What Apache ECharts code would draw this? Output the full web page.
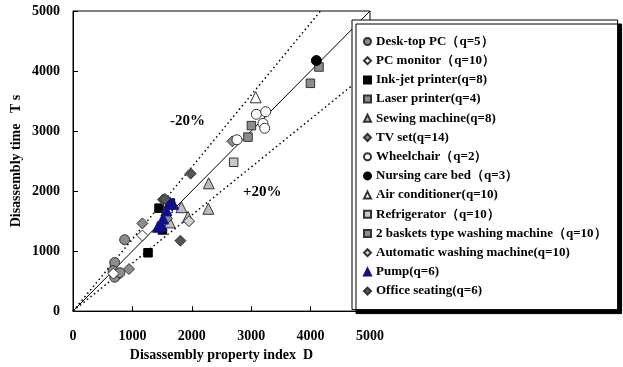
<!DOCTYPE html>
<html><head><meta charset="utf-8">
<script src="https://cdn.jsdelivr.net/npm/echarts@6/dist/echarts.min.js"></script>
<style>html,body{margin:0;padding:0;background:#fff}#c{width:623px;height:367px}</style>
</head><body><div id="c"></div>
<script>
const ticks = [0,1000,2000,3000,4000,5000];
const desktopPC = [[870,1189],[702,809],[674,673],[758,619],[702,565],[790,640]];
const pcMonitor = [[1168,1259],[680,625]];
const inkjet = [[1263,972],[1448,1715],[1505,1352],[1640,1800]];
const laser = [[4141,4067],[3997,3795]];
const sewing = [[1825,1731],[2285,2129],[2279,1705],[1628,1477],[1936,1569]];
const tvSet = [[1168,1461],[943,700],[1583,1542],[2683,2829]];
const wheelchair = [[3087,3279],[3244,3322],[3199,3127],[3227,3046],[2761,2855]];
const nursingBed = [[4097,4174]];
const aircon = [[3076,3562],[1589,1731]];
const fridge = [[2705,2480]];
const twoBasket = [[3003,3090],[2946,2899]];
const autoWash = [[1953,1498]];
const pump = [[1628,1813],[1684,1787],[1572,1678],[1515,1542],[1431,1406],[1488,1433]];
const officeSeat = [[1981,2291],[1515,1857],[1808,1173],[1545,1870]];
const lineEqual = [[0,0],[5000,5000]];
const lineMinus20 = [[0,0],[4167,5000]];
const linePlus20 = [[0,0],[5000,4000]];

const F = '"Liberation Serif","Times New Roman",serif';
const chart = echarts.init(document.getElementById('c'));
function sc(name, data, symbol, fill, border){
  return {type:'scatter', name, data, symbol, symbolSize: symbol==='triangle'?11:(symbol==='diamond'?11:(symbol==='rect'?8.5:10)),
    itemStyle:{color:fill, borderColor:border||'#333', borderWidth:1, opacity:1}, z:5};
}
function ln(data, type){
  return {type:'line', data, symbol:'none', silent:true, clip:true,
    lineStyle:{color:'#000', width: type==='solid'?1:1.5, type: type==='solid'?'solid':[1.5,3]}, z:2};
}
const series = [
  ln(lineEqual,'solid'), ln(lineMinus20,'dot'), ln(linePlus20,'dot'),
  sc('Desk-top PC（q=5）', desktopPC, 'circle', '#8c8c8c'),
  sc('PC monitor（q=10）', pcMonitor, 'diamond', '#ffffff'),
  sc('Ink-jet printer(q=8)', inkjet, 'rect', '#000000','#000'),
  sc('Laser printer(q=4)', laser, 'rect', '#8c8c8c'),
  sc('Sewing machine(q=8)', sewing, 'triangle', '#bdbdbd'),
  sc('TV set(q=14)', tvSet, 'diamond', '#8c8c8c'),
  sc('Wheelchair（q=2）', wheelchair, 'circle', '#ffffff'),
  sc('Nursing care bed（q=3）', nursingBed, 'circle', '#000000','#000'),
  sc('Air conditioner(q=10)', aircon, 'triangle', '#ffffff'),
  sc('Refrigerator（q=10）', fridge, 'rect', '#c8c8c8'),
  sc('2 baskets type washing machine（q=10）', twoBasket, 'rect', '#8c8c8c'),
  sc('Automatic washing machine(q=10)', autoWash, 'diamond', '#d0d0d0'),
  sc('Pump(q=6)', pump, 'triangle', '#10108a','#10108a'),
  sc('Office seating(q=6)', officeSeat, 'diamond', '#555555','#333')
];
const axisCommon = {
  min:0, max:5000, interval:1000,
  axisLine:{show:true, onZero:false, lineStyle:{color:'#000', width:1}},
  axisTick:{show:true, inside:true, length:5, lineStyle:{color:'#000'}},
  splitLine:{show:false},
  axisLabel:{color:'#000', fontFamily:F, fontWeight:'bold', fontSize:14, formatter:v=>ticks.includes(v)?String(v):''},
  nameTextStyle:{color:'#000', fontFamily:F, fontWeight:'bold', fontSize:14},
  nameLocation:'middle'
};
chart.setOption({
  animation:false,
  grid:{left:73, right:253, top:11, bottom:49, show:true, borderColor:'#000', borderWidth:1, backgroundColor:'transparent'},
  xAxis:Object.assign({}, axisCommon, {type:'value', name:'Disassembly property index  D', nameGap:30,
    axisLabel:Object.assign({}, axisCommon.axisLabel, {margin:18})}),
  yAxis:Object.assign({}, axisCommon, {type:'value', name:'Disassembly time   T s', nameGap:50,
    axisLabel:Object.assign({}, axisCommon.axisLabel, {margin:13})}),
  legend:{
    orient:'vertical', left:352, top:20, itemWidth:7, itemHeight:7, itemGap:6.2,
    padding:[15,11,12,11], backgroundColor:'#fff', borderColor:'#000', borderWidth:1,
    shadowColor:'#000', shadowBlur:0, shadowOffsetX:4, shadowOffsetY:4,
    textStyle:{color:'#000', fontFamily:F, fontWeight:'bold', fontSize:13, lineHeight:13},
    data: series.filter(s=>s.type==='scatter').map(s=>s.name)
  },
  graphic:[
    {type:'text', left:170, top:114, style:{text:'-20%', font:'bold 15px '+F, fill:'#000'}},
    {type:'text', left:243, top:185, style:{text:'+20%', font:'bold 15px '+F, fill:'#000'}}
  ],
  series
});
</script></body></html>
